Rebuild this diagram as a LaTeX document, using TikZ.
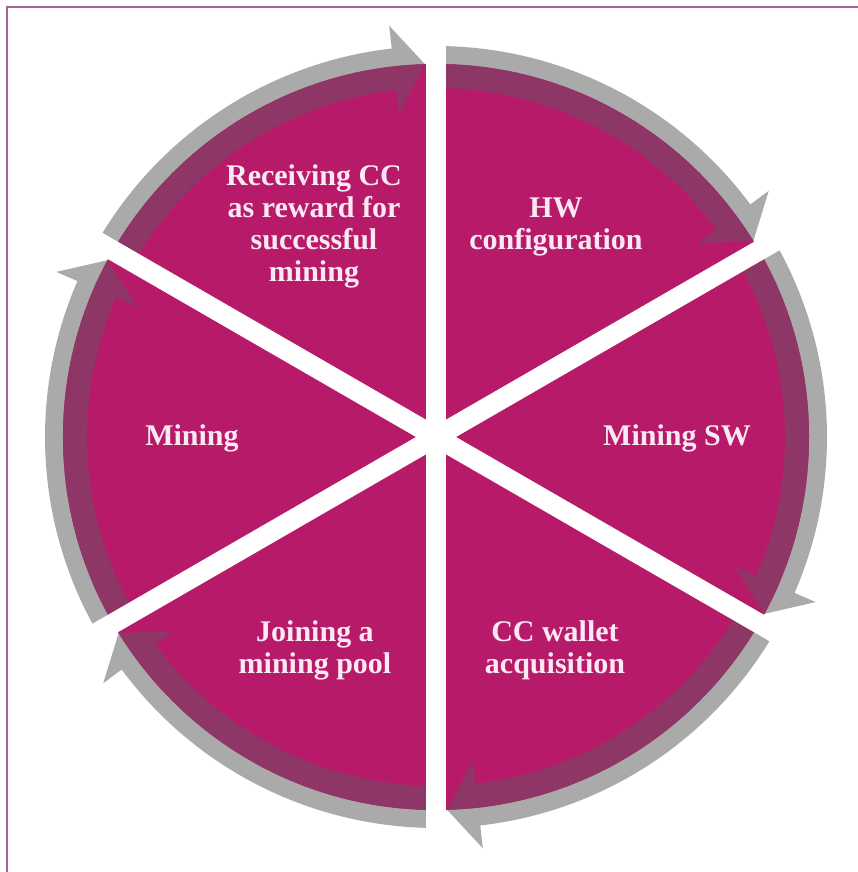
\documentclass[tikz,border=0pt]{standalone}
\usepackage{fontspec}
\setmainfont{Liberation Serif}
\definecolor{magentaseg}{RGB}{184,26,106}
\definecolor{darkband}{RGB}{142,54,102}
\definecolor{grayband}{RGB}{170,170,170}
\definecolor{framecol}{RGB}{165,100,145}
\definecolor{labeltext}{RGB}{250,232,242}
\tikzset{
  labelnode/.style={text=labeltext, align=center, font=\fontsize{30}{32}\selectfont\bfseries, inner sep=0pt},
  gapstrip/.style={draw=white, line width=20pt, line cap=butt},
  arrowshape/.pic={
    \path[pic actions] (150.5:391) arc[start angle=150.5, end angle=96.5, radius=391]
      -- (96.5:414) -- (91.7:373) -- (96.5:326) -- (96.5:349)
      arc[start angle=96.5, end angle=150.5, radius=349] -- cycle;
  }
}
\begin{document}
\begin{tikzpicture}[x=1pt,y=1pt]
\useasboundingbox (-436,-435) rectangle (421,437);
% gray arrows
\foreach \r in {0,-60,-120,-180,-240,-300}
  \pic[rotate=\r, fill=grayband] {arrowshape};
% magenta disc
\fill[magentaseg] (0,0) circle[radius=373];
% dark part of the arrows inside the disc
\begin{scope}
  \clip (0,0) circle[radius=373];
  \foreach \r in {0,-60,-120,-180,-240,-300}
    \pic[rotate=\r, fill=darkband] {arrowshape};
\end{scope}
% white gaps
\draw[gapstrip] (90:432) -- (270:432);
\draw[gapstrip] (30:432) -- (210:432);
\draw[gapstrip] (150:432) -- (330:432);
% labels
\node[labelnode] (hw) at (120,210) {HW\\configuration};
\node[labelnode] (sw) at (241,-1) {Mining SW};
\node[labelnode] (wallet) at (119,-213) {CC wallet\\acquisition};
\node[labelnode] (pool) at (-121,-213) {Joining a\\mining pool};
\node[labelnode] (mining) at (-244,-1) {Mining};
\node[labelnode] (reward) at (-122,211) {Receiving CC\\as reward for\\successful\\mining};
% frame
\draw[framecol, line width=1.3pt] (-429,-436) -- (-429,430) -- (422,430);
\end{tikzpicture}
\end{document}
